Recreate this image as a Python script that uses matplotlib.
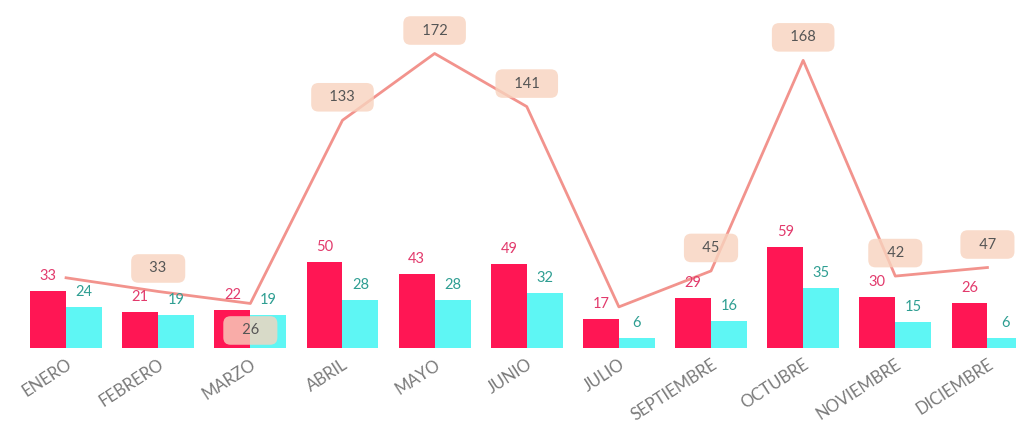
import matplotlib
matplotlib.use("Agg")
import matplotlib.pyplot as plt
import numpy as np

months = ["ENERO", "FEBRERO", "MARZO", "ABRIL", "MAYO", "JUNIO", "JULIO",
          "SEPTIEMBRE", "OCTUBRE", "NOVIEMBRE", "DICIEMBRE"]
pink_vals = [33, 21, 22, 50, 43, 49, 17, 29, 59, 30, 26]
cyan_vals = [24, 19, 19, 28, 28, 32, 6, 16, 35, 15, 6]
line_vals = [41, 33, 26, 133, 172, 141, 24, 45, 168, 42, 47]
line_label_shown = [False, True, True, True, True, True, False, True, True, True, True]
line_label_below = [False, False, True, False, False, False, False, False, False, False, False]

PINK = "#FF1654"
CYAN = "#5EF6F4"
LINE = "#F2938D"
BOX = "#F8D3BE"

plt.rcParams['font.family'] = ['Lato', 'DejaVu Sans']

fig = plt.figure(figsize=(10.16, 4.22), dpi=100)
ax = fig.add_axes([0.0, 0.1754, 1.0, 0.8114])

x = np.arange(len(months))
w = 0.39
ax.bar(x - w / 2, pink_vals, width=w, color=PINK, zorder=2)
ax.bar(x + w / 2, cyan_vals, width=w, color=CYAN, zorder=2)
ax.plot(x, line_vals, color=LINE, lw=2, zorder=3)

for xi, v in zip(x, pink_vals):
    ax.annotate(str(v), (xi - w / 2, v), xytext=(0, 8), textcoords="offset pixels",
                ha="center", va="bottom", fontsize=10.5, color="#E23A6C", zorder=5)
for xi, v in zip(x, cyan_vals):
    ax.annotate(str(v), (xi + w / 2, v), xytext=(0, 8), textcoords="offset pixels",
                ha="center", va="bottom", fontsize=10.5, color="#2E9E92", zorder=5)

for xi, v, show, below in zip(x, line_vals, line_label_shown, line_label_below):
    if not show:
        continue
    dy = -27 if below else 23
    ax.annotate("   " + str(v) + "   ", (xi, v), xytext=(0, dy), textcoords="offset pixels",
                ha="center", va="center", fontsize=10.5, color="#555555", zorder=6,
                bbox=dict(boxstyle="round,pad=0.5,rounding_size=0.5", fc=BOX, ec="none", alpha=0.8))

ax.set_ylim(0, 200)
ax.set_xlim(-0.717, 10.31)
ax.set_xticks(x)
ax.set_xticklabels(months, rotation=33, ha="right", rotation_mode="anchor",
                   fontsize=12, color="#7A7A7A")
ax.tick_params(axis="x", length=0, pad=6)
ax.set_yticks([])
for s in ax.spines.values():
    s.set_visible(False)

fig.savefig("out.png", dpi=100)
